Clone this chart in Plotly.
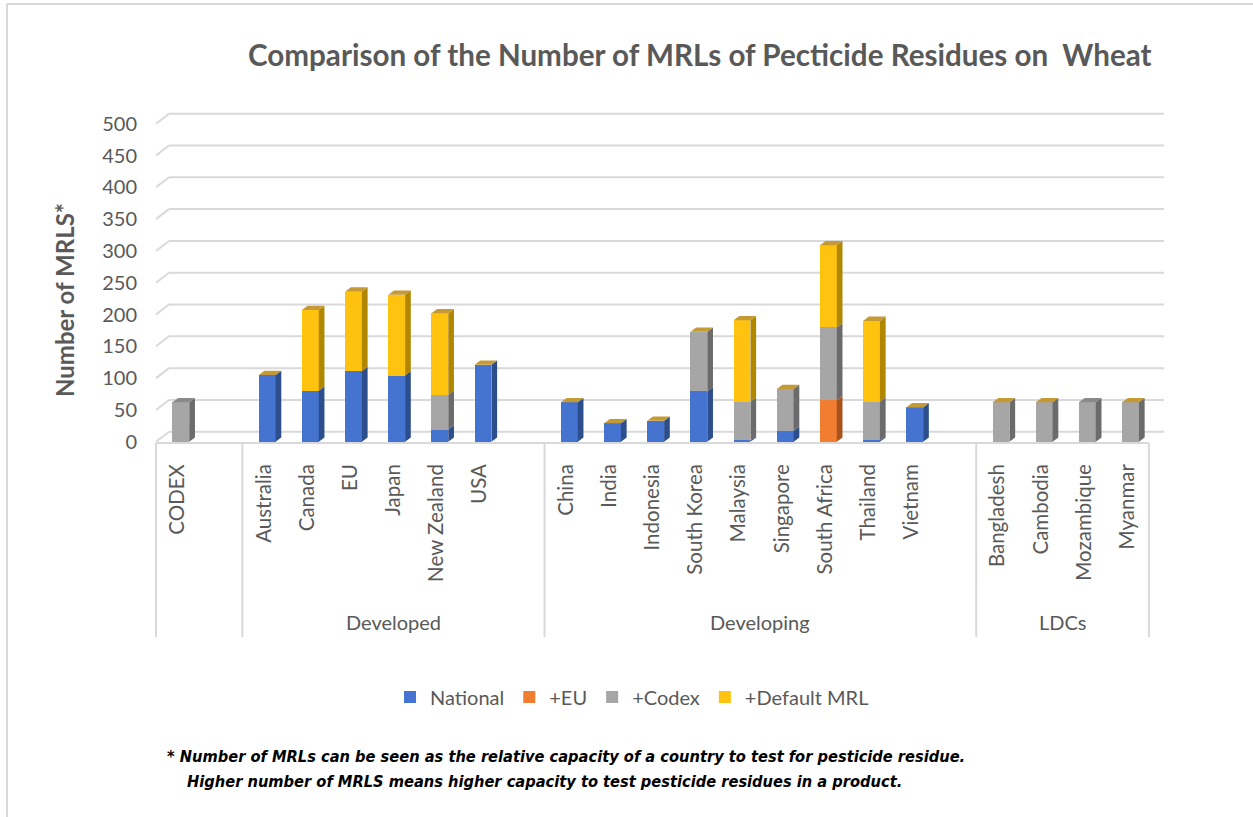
import plotly.graph_objects as go

# ---- data -------------------------------------------------------------
groups = ["", "Developed", "Developing", "LDCs"]
group_sizes = [1, 6, 9, 4]
countries = ["CODEX",
             "Australia", "Canada", "EU", "Japan", "New Zealand", "USA",
             "China", "India", "Indonesia", "South Korea", "Malaysia", "Singapore",
             "South Africa", "Thailand", "Vietnam",
             "Bangladesh", "Cambodia", "Mozambique", "Myanmar"]
national = [0, 105, 80, 111, 104, 19, 121, 62, 29, 33, 79, 2, 17, 0, 2, 54, 0, 0, 0, 0]
plus_eu = [0, 0, 0, 0, 0, 0, 0, 0, 0, 0, 0, 0, 0, 65, 0, 0, 0, 0, 0, 0]
plus_codex = [62, 0, 0, 0, 0, 55, 0, 0, 0, 0, 94, 61, 66, 115, 61, 0, 62, 62, 62, 62]
plus_default = [None, 0, 127, 125, 127, 128, 0, 0, 0, 0, 0, 128, 0, 129, 127, 0, 0, 0, None, 0]
y_ticks = [0, 50, 100, 150, 200, 250, 300, 350, 400, 450, 500]

series = [
    # name, values, front, side, top
    ("National", national, "#4474cf", "#2c4e8c", "#3d63a8"),
    ("+EU", plus_eu, "#f07d30", "#a9531c", "#c0651f"),
    ("+Codex", plus_codex, "#a6a6a6", "#6b6b6b", "#8a8a8a"),
    ("+Default MRL", plus_default, "#ffc20e", "#b28700", "#c49a35"),
]

TITLE = "Comparison of the Number of MRLs of Pecticide Residues on  Wheat"
NOTE1 = "* Number of MRLs can be seen as the relative capacity of a country to test for pesticide residue."
NOTE2 = "Higher number of MRLS means higher capacity to test pesticide residues in a product."

# ---- page geometry ----------------------------------------------------
W, H = 1253, 817
L, T, PW, PH = 156, 111, 1008, 332
X_RANGE = [-0.5, 22.85]
Y_RANGE = [-2, 520]
GREY_TXT = "#595959"
GRID = "#d9d9d9"
FONT = "Lato, 'Open Sans', sans-serif"


def px_x(px):
    return (px - L) / PW


def px_y(py):
    return (T + PH - py) / PH


def dx_units(px):
    return px * (X_RANGE[1] - X_RANGE[0]) / PW


def dy_units(px):
    return px * (Y_RANGE[1] - Y_RANGE[0]) / PH


# slot positions: an empty slot follows every group except the last one
positions, group_spans = [], []
slot = 0
for gi, n in enumerate(group_sizes):
    start = slot
    positions += list(range(slot, slot + n))
    slot += n
    if gi < len(group_sizes) - 1:
        slot += 1
    group_spans.append((start - 0.5, slot - 0.5))

BAR_W = 0.39
BAR_OFF = -0.12
DEPTH_X = dx_units(5.7)
DEPTH_Y = dy_units(4.3)

fig = go.Figure()

# front faces
for name, vals, front, side, top in series:
    fig.add_trace(go.Bar(
        x=positions, y=vals, name=name, width=BAR_W, offset=BAR_OFF,
        marker=dict(color=front, line=dict(width=0)),
    ))

# side faces of every stacked segment
bases = [0.0] * len(countries)
for name, vals, front, side, top in series:
    xs, ys = [], []
    for i, v in enumerate(vals):
        v = v or 0
        if v > 0:
            xr = positions[i] + BAR_OFF + BAR_W
            b, t = bases[i], bases[i] + v
            xs += [xr, xr + DEPTH_X, xr + DEPTH_X, xr, xr, None]
            ys += [b, b + DEPTH_Y, t + DEPTH_Y, t, b, None]
        bases[i] += v
    fig.add_trace(go.Scatter(
        x=xs, y=ys, mode="lines", fill="toself", fillcolor=side,
        line=dict(width=0, color=side), hoverinfo="skip", showlegend=False,
    ))

# top faces, coloured by the last series present in each column
top_color = []
for i in range(len(countries)):
    c = None
    for name, vals, front, side, top in series:
        if vals[i] is not None:
            c = top
    top_color.append(c)

for color in dict.fromkeys(top_color):
    xs, ys = [], []
    for i, c in enumerate(top_color):
        if c != color:
            continue
        xl = positions[i] + BAR_OFF
        xr = xl + BAR_W
        t = bases[i]
        xs += [xl, xl + DEPTH_X, xr + DEPTH_X, xr, xl, None]
        ys += [t, t + DEPTH_Y, t + DEPTH_Y, t, t, None]
    fig.add_trace(go.Scatter(
        x=xs, y=ys, mode="lines", fill="toself", fillcolor=color,
        line=dict(width=0, color=color), hoverinfo="skip", showlegend=False,
    ))

shapes = []
# back-wall gridlines with their short floor/wall diagonals
GX = dx_units(13)
GY = dy_units(10)
for v in y_ticks:
    shapes.append(dict(type="line", xref="x", yref="y", layer="below",
                       x0=X_RANGE[0], y0=v, x1=X_RANGE[0] + GX, y1=v + GY,
                       line=dict(color=GRID, width=2)))
    shapes.append(dict(type="line", xref="x", yref="y", layer="below",
                       x0=X_RANGE[0] + GX, y0=v + GY, x1=X_RANGE[1], y1=v + GY,
                       line=dict(color=GRID, width=2)))

# front edge of the floor (category axis)
x_end = group_spans[-1][1]
shapes.append(dict(type="line", xref="paper", yref="paper",
                   x0=px_x(L), x1=(x_end - X_RANGE[0]) / (X_RANGE[1] - X_RANGE[0]),
                   y0=px_y(443), y1=px_y(443),
                   line=dict(color=GRID, width=2)))

# group separators reaching down past the labels
bounds = [group_spans[0][0]] + [s[1] for s in group_spans]
for b in bounds:
    xp = (b - X_RANGE[0]) / (X_RANGE[1] - X_RANGE[0])
    shapes.append(dict(type="line", xref="paper", yref="paper",
                       x0=xp, x1=xp, y0=px_y(443), y1=px_y(637),
                       line=dict(color=GRID, width=2)))

# chart border (top and left edges)
shapes.append(dict(type="line", xref="paper", yref="paper",
                   x0=px_x(7), x1=px_x(W + 5), y0=px_y(4), y1=px_y(4),
                   line=dict(color=GRID, width=2)))
shapes.append(dict(type="line", xref="paper", yref="paper",
                   x0=px_x(7), x1=px_x(7), y0=px_y(4), y1=px_y(H + 5),
                   line=dict(color=GRID, width=2)))

annotations = []
for g, (a, b) in zip(groups, group_spans):
    if g:
        annotations.append(dict(text=g, x=(a + b) / 2, xref="x", y=px_y(622), yref="paper",
                                showarrow=False, xanchor="center", yanchor="middle",
                                font=dict(family=FONT, size=20, color=GREY_TXT)))

annotations.append(dict(text=f"<b>{TITLE}</b>", x=px_x(700), y=px_y(55),
                        xref="paper", yref="paper", showarrow=False,
                        xanchor="center", yanchor="middle",
                        font=dict(family=FONT, size=29.6, color=GREY_TXT)))
annotations.append(dict(text="<b>Number of MRLS*</b>", x=px_x(64), y=px_y(300),
                        xref="paper", yref="paper", showarrow=False, textangle=-90,
                        xanchor="center", yanchor="middle",
                        font=dict(family=FONT, size=24, color=GREY_TXT)))
NOTE_FONT = dict(family="'Liberation Sans Narrow', 'DejaVu Sans Condensed', 'Arial Narrow', sans-serif",
                 size=16.3, color="#000000")
annotations.append(dict(text=f"<b><i>{NOTE1}</i></b>", x=px_x(165), y=px_y(756),
                        xref="paper", yref="paper", showarrow=False,
                        xanchor="left", yanchor="middle", font=NOTE_FONT))
annotations.append(dict(text=f"<b><i>{NOTE2}</i></b>", x=px_x(185), y=px_y(781),
                        xref="paper", yref="paper", showarrow=False,
                        xanchor="left", yanchor="middle", font=NOTE_FONT))

fig.update_layout(
    width=W, height=H,
    margin=dict(l=L, r=W - L - PW, t=T, b=H - T - PH, autoexpand=False),
    paper_bgcolor="white", plot_bgcolor="white",
    barmode="stack", bargap=0,
    shapes=shapes, annotations=annotations,
    legend=dict(orientation="h", x=px_x(632), xanchor="center", y=px_y(697), yanchor="middle",
                font=dict(family=FONT, size=20, color=GREY_TXT), traceorder="normal",
                bgcolor="rgba(0,0,0,0)"),
    xaxis=dict(range=X_RANGE, tickmode="array", tickvals=positions, ticktext=countries,
               tickangle=-90, ticks="", ticklabelstandoff=16, showgrid=False,
               zeroline=False, showline=False,
               tickfont=dict(family=FONT, size=20.5, color=GREY_TXT)),
    yaxis=dict(range=Y_RANGE, tickmode="array", tickvals=y_ticks, ticks="",
               ticklabelstandoff=18, showgrid=False, zeroline=False, showline=False,
               tickfont=dict(family=FONT, size=20, color=GREY_TXT)),
    hovermode=False,
)

fig.write_html("out.html")
